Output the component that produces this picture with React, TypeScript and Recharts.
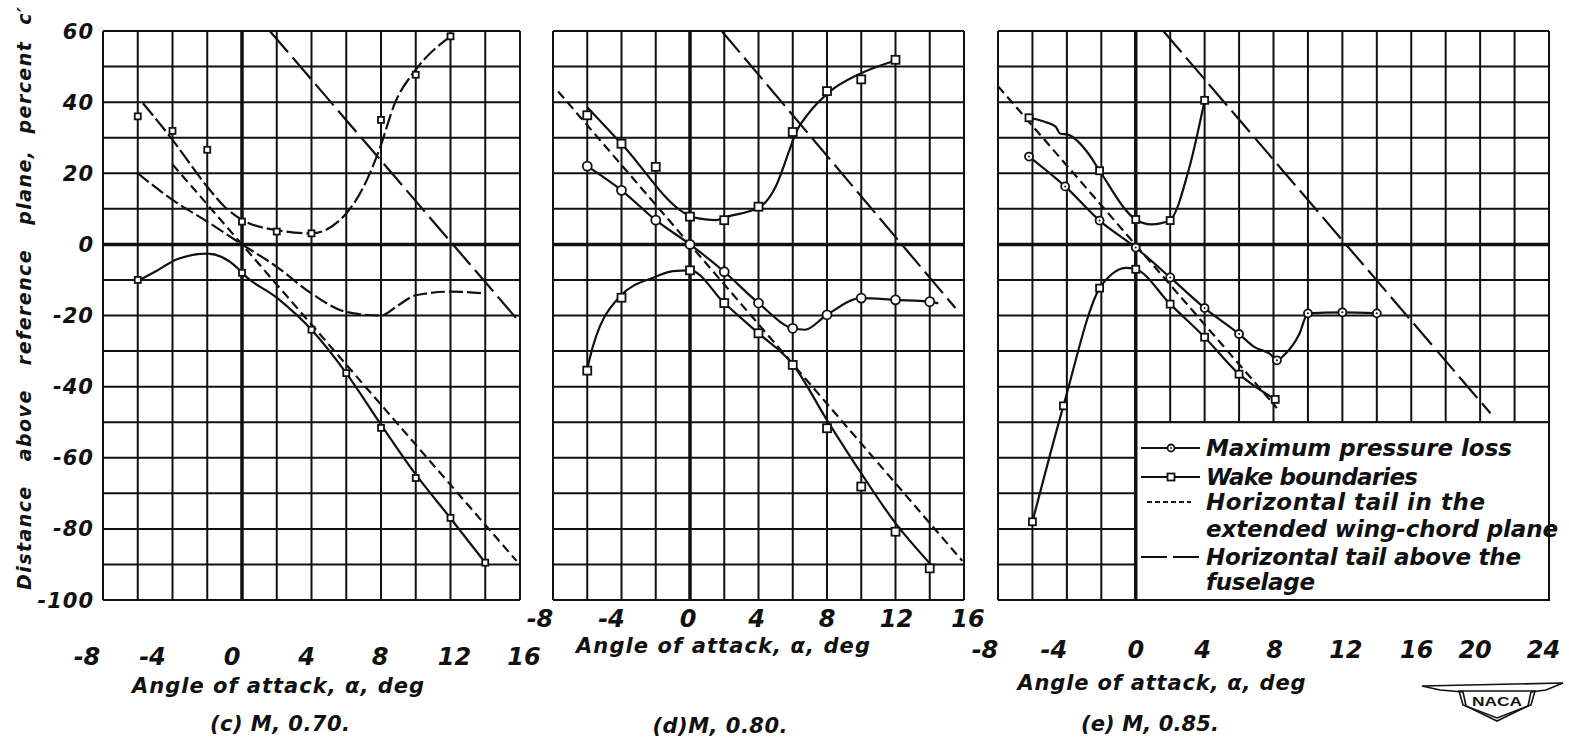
import React from 'react';
import {
  ComposedChart,
  Line,
  Scatter,
  XAxis,
  YAxis,
  CartesianGrid,
  ReferenceLine,
  ReferenceArea,
} from 'recharts';

type Pt = { x: number; y: number };
const toPts = (a: number[][]): Pt[] => a.map(([x, y]) => ({ x, y }));

// ---------- axis ticks & labels ----------
const xTicks16 = [-8, -6, -4, -2, 0, 2, 4, 6, 8, 10, 12, 14, 16];
const xTicks24 = [-8, -6, -4, -2, 0, 2, 4, 6, 8, 10, 12, 14, 16, 18, 20, 22, 24];
const xLabels16 = [-8, -4, 0, 4, 8, 12, 16];
const xLabels24 = [-8, -4, 0, 4, 8, 12, 16, 20, 24];
const yTicks = [-100, -90, -80, -70, -60, -50, -40, -30, -20, -10, 0, 10, 20, 30, 40, 50, 60];
const yLabels = [60, 40, 20, 0, -20, -40, -60, -80, -100];

// ---------- (c) M = 0.70 ----------
const cLossCurve = [[-6, 20], [-4, 12.5], [-2, 6.4], [0, 0], [2, -6.3], [4, -13.8], [6, -19], [8, -20], [9, -17.1], [10, -14.3], [12, -13.3], [14, -13.8]];
const cWakeUpperCurve = [[-5.7, 39.7], [-4, 29.4], [-2, 16.2], [-1, 10.6], [0, 6.9], [2, 4], [4, 3.1], [6, 8.7], [7, 16.2], [7.9, 26.6], [8.8, 39.7], [10, 49.1], [12, 58.5]];
const cWakeUpperPts = [[-6, 36], [-4, 31.9], [-2, 26.6], [0, 6.4], [2, 3.6], [4, 3.1], [8, 35], [10, 47.7], [12, 58.5]];
const cWakeLowerCurve = [[-5.9, -10], [-4.9, -7.4], [-3.7, -4.1], [-2, -2.6], [-0.2, -6.9], [0, -8], [2, -15], [4, -24], [6, -36.2], [8, -50.7], [10, -64.7], [12, -77], [14, -89.5]];
const cWakeLowerPts = [[-6, -10], [0, -8], [4, -24], [6, -36.2], [8, -51.6], [10, -65.7], [12, -76.9], [14, -89.5]];
const cChord = [[-4, 22.5], [15.8, -89]];
const cAbove = [[1.6, 60], [16, -22]];

// ---------- (d) M = 0.80 ----------
const dLossPts = [[-6, 22], [-4, 15.2], [-2, 6.8], [0, 0], [2, -7.7], [4, -16.5], [6, -23.6], [8, -19.8], [10, -15.1], [12, -15.6], [14, -16.1]];
const dLossCurve = [[-6, 22], [-4, 15.2], [-2, 6.8], [0, 0], [2, -7.7], [4, -16.5], [6, -23.6], [6.7, -24], [8, -19.8], [10, -15.1], [12, -15.6], [14, -16.1], [14.5, -16.6]];
const dWakeUpperCurve = [[-6, 38.6], [-4, 28.3], [0, 8], [0.5, 7.3], [1.5, 6.8], [2.2, 7.8], [4.1, 10.6], [5, 16.2], [5.8, 26.4], [6.2, 31.6], [6.9, 36.7], [8.2, 43.1], [9.9, 47.9], [12, 51.7]];
const dWakeUpperPts = [[-6, 36.3], [-4, 28.3], [-2, 21.8], [0, 7.8], [2, 6.8], [4, 10.6], [6, 31.6], [8, 43.1], [10, 46.4], [12, 51.9]];
const dWakeLowerCurve = [[-6, -35.5], [-5.9, -32.9], [-4.1, -14.7], [-2, -9.1], [-1, -7.5], [0, -7.3], [2, -16.5], [4, -25], [6, -33.7], [8, -49.4], [10, -64.4], [12, -78.4], [14, -89.7]];
const dWakeLowerPts = [[-6, -35.5], [-4, -15], [0, -7.3], [2, -16.5], [4, -25], [6, -33.9], [8, -51.7], [10, -68.1], [12, -80.8], [14, -91.1]];
const dChord = [[-7.7, 43], [15.9, -89]];
const dAbove = [[1.85, 60], [15.5, -17.9]];

// ---------- (e) M = 0.85 ----------
const eLossPts = [[-6.2, 24.7], [-4.1, 16.3], [-2.1, 6.7], [0, -0.9], [2, -9.3], [4, -17.9], [6, -25.2], [8.2, -32.6], [10, -19.4], [12, -19.1], [14, -19.4]];
const eLossCurve = [[-6.2, 24.7], [-4.1, 16.3], [-2.1, 6.7], [0, -0.9], [2, -9.3], [4, -17.9], [6, -25.2], [6.9, -28.9], [7.8, -30.8], [8.2, -32.6], [8.6, -31.2], [9.5, -25.2], [10, -19.4], [12, -19.1], [14, -19.4]];
const eWakeUpperCurve = [[-6.2, 35.6], [-5.3, 34.5], [-4.65, 33.1], [-4.4, 31.2], [-3.9, 30.8], [-2.7, 25.2], [-2.1, 20.7], [0, 7], [0.9, 5.6], [1.95, 6.7], [3.1, 21.4], [4, 40.5]];
const eWakeUpperPts = [[-6.2, 35.6], [-2.1, 20.7], [0, 7], [2, 6.7], [4, 40.5]];
const eWakeLowerCurve = [[-6, -78], [-4.2, -45.4], [-2.1, -12.3], [-1.4, -8.4], [-0.6, -6.6], [0, -7], [2, -16.8], [4, -26.1], [6, -36.5], [8.1, -43.6]];
const eWakeLowerPts = [[-6, -78], [-4.2, -45.4], [-2.1, -12.3], [0, -7], [2, -16.8], [4, -26.1], [6, -36.5], [8.1, -43.6]];
const eChord = [[-8, 44.5], [8.2, -46]];
const eAbove = [[1.6, 60], [20.6, -47.5]];

// ---------- styling ----------
const W = 1569;
const H = 744;
const INK = '#111';
const FONT = { fontFamily: '"DejaVu Sans", "Liberation Sans", sans-serif', fontWeight: 'bold' as const, fontStyle: 'italic' as const };
const CHORD_DASH = '9 5';
const ABOVE_DASH = '28 7';
const LW = 2.2;

const circleShape = (r: number, dot: boolean) => (p: any) => (
  <g>
    <circle cx={p.cx} cy={p.cy} r={r} fill="#fff" stroke={INK} strokeWidth={1.8} />
    {dot ? <circle cx={p.cx} cy={p.cy} r={1} fill={INK} /> : null}
  </g>
);
const squareShape = (s: number) => (p: any) => (
  <rect x={p.cx - s / 2} y={p.cy - s / 2} width={s} height={s} fill="#fff" stroke={INK} strokeWidth={1.8} />
);

type Panel = {
  key: string;
  left: number;
  right: number;
  xMax: number;
  xTicks: number[];
  xLabels: number[];
  labelDx: Record<string, number>;
  tickBaseline: number;
  showY: boolean;
  legendBox: boolean;
  lossCurve: number[][];
  lossPts: number[][] | null;
  lossDash?: string;
  wakeUpperCurve: number[][];
  wakeUpperPts: number[][];
  wakeUpperDash?: string;
  wakeLowerCurve: number[][];
  wakeLowerPts: number[][];
  chord: number[][];
  above: number[][];
  circleR: number;
  circleDot: boolean;
  sq: number;
};

const panels: Panel[] = [
  {
    key: 'c', left: 103, right: 520, xMax: 16, xTicks: xTicks16, xLabels: xLabels16,
    labelDx: { '-8': -16, '-4': -20, '0': -10, '4': -5, '8': -1, '12': 4, '16': 4 },
    tickBaseline: 665, showY: true, legendBox: false,
    lossCurve: cLossCurve, lossPts: null, lossDash: '14 4',
    wakeUpperCurve: cWakeUpperCurve, wakeUpperPts: cWakeUpperPts, wakeUpperDash: '16 4',
    wakeLowerCurve: cWakeLowerCurve, wakeLowerPts: cWakeLowerPts,
    chord: cChord, above: cAbove, circleR: 4, circleDot: false, sq: 6,
  },
  {
    key: 'd', left: 553, right: 964, xMax: 16, xTicks: xTicks16, xLabels: xLabels16,
    labelDx: { '-8': -13, '-4': -10, '0': -2, '4': -2, '8': 0, '12': 1, '16': 4 },
    tickBaseline: 627, showY: false, legendBox: false,
    lossCurve: dLossCurve, lossPts: dLossPts,
    wakeUpperCurve: dWakeUpperCurve, wakeUpperPts: dWakeUpperPts,
    wakeLowerCurve: dWakeLowerCurve, wakeLowerPts: dWakeLowerPts,
    chord: dChord, above: dAbove, circleR: 4.5, circleDot: false, sq: 8,
  },
  {
    key: 'e', left: 998, right: 1549, xMax: 24, xTicks: xTicks24, xLabels: xLabels24,
    labelDx: { '-8': -13, '-4': -13, '0': 0, '4': -2, '8': 1, '12': 3.5, '16': 5.5, '20': -5, '24': -5.5 },
    tickBaseline: 658, showY: false, legendBox: true,
    lossCurve: eLossCurve, lossPts: eLossPts,
    wakeUpperCurve: eWakeUpperCurve, wakeUpperPts: eWakeUpperPts,
    wakeLowerCurve: eWakeLowerCurve, wakeLowerPts: eWakeLowerPts,
    chord: eChord, above: eAbove, circleR: 4, circleDot: true, sq: 7,
  },
];

const PLOT_TOP = 31;
const PLOT_BOTTOM = 600;
const X_AXIS_H = 30;
const Y_AXIS_W = 60;

function PanelChart({ p }: { p: Panel }) {
  const xTick = (props: any) => {
    const v = props.payload.value;
    if (!p.xLabels.includes(v)) return <g />;
    return (
      <text x={props.x + (p.labelDx[String(v)] || 0)} y={p.tickBaseline} textAnchor="middle" fontSize={24} fill={INK} style={FONT}>
        {String(v)}
      </text>
    );
  };
  const yTick = (props: any) => {
    const v = props.payload.value;
    if (!yLabels.includes(v)) return <g />;
    return (
      <text x={94} y={props.y + 7.5} textAnchor="end" fontSize={21} letterSpacing={1} fill={INK} style={FONT}>
        {String(v)}
      </text>
    );
  };
  const margin = {
    top: PLOT_TOP,
    bottom: H - PLOT_BOTTOM - X_AXIS_H,
    left: p.showY ? p.left - Y_AXIS_W : p.left,
    right: W - p.right,
  };
  return (
    <div style={{ position: 'absolute', left: 0, top: 0, width: W, height: H }}>
      <ComposedChart width={W} height={H} margin={margin}>
        <CartesianGrid stroke={INK} strokeWidth={2} />
        <XAxis
          type="number"
          dataKey="x"
          domain={[-8, p.xMax]}
          ticks={p.xTicks}
          interval={0}
          allowDataOverflow
          axisLine={false}
          tickLine={false}
          height={X_AXIS_H}
          tick={xTick}
        />
        <YAxis
          type="number"
          dataKey="y"
          domain={[-100, 60]}
          ticks={yTicks}
          interval={0}
          allowDataOverflow
          hide={!p.showY}
          width={Y_AXIS_W}
          axisLine={false}
          tickLine={false}
          tick={yTick}
        />
        <ReferenceLine y={0} stroke={INK} strokeWidth={3.5} />
        {p.legendBox ? (
          <ReferenceArea x1={0} x2={p.xMax} y1={-100} y2={-50} fill="#fff" fillOpacity={1} stroke={INK} strokeWidth={2} />
        ) : null}
        <ReferenceLine x={0} stroke={INK} strokeWidth={3.5} />
        <Line data={toPts(p.chord)} dataKey="y" type="linear" stroke={INK} strokeWidth={LW} strokeDasharray={CHORD_DASH} dot={false} activeDot={false} isAnimationActive={false} />
        <Line data={toPts(p.above)} dataKey="y" type="linear" stroke={INK} strokeWidth={LW} strokeDasharray={ABOVE_DASH} dot={false} activeDot={false} isAnimationActive={false} />
        <Line data={toPts(p.wakeUpperCurve)} dataKey="y" type="monotone" stroke={INK} strokeWidth={LW} strokeDasharray={p.wakeUpperDash} dot={false} activeDot={false} isAnimationActive={false} />
        <Line data={toPts(p.wakeLowerCurve)} dataKey="y" type="monotone" stroke={INK} strokeWidth={LW} dot={false} activeDot={false} isAnimationActive={false} />
        <Line data={toPts(p.lossCurve)} dataKey="y" type="monotone" stroke={INK} strokeWidth={LW} strokeDasharray={p.lossDash} dot={false} activeDot={false} isAnimationActive={false} />
        <Scatter data={toPts(p.wakeUpperPts)} dataKey="y" shape={squareShape(p.sq)} isAnimationActive={false} />
        <Scatter data={toPts(p.wakeLowerPts)} dataKey="y" shape={squareShape(p.sq)} isAnimationActive={false} />
        {p.lossPts ? (
          <Scatter data={toPts(p.lossPts)} dataKey="y" shape={circleShape(p.circleR, p.circleDot)} isAnimationActive={false} />
        ) : null}
      </ComposedChart>
    </div>
  );
}

// ---------- text overlay ----------
const titles = [
  { text: 'Angle of attack, α, deg', x: 278, y: 693, len: 292 },
  { text: '(c) M, 0.70.', x: 280, y: 731, len: 140 },
  { text: 'Angle of attack, α, deg', x: 723, y: 653, len: 294 },
  { text: '(d)M, 0.80.', x: 720, y: 733, len: 135 },
  { text: 'Angle of attack, α, deg', x: 1161.5, y: 690, len: 288 },
  { text: '(e) M, 0.85.', x: 1150, y: 731, len: 138 },
];
const legendLines = [
  { text: 'Maximum pressure loss', y: 456, len: 306 },
  { text: 'Wake boundaries', y: 485, len: 212 },
  { text: 'Horizontal tail in the', y: 510, len: 279 },
  { text: 'extended wing-chord plane', y: 537, len: 352 },
  { text: 'Horizontal tail above the', y: 565, len: 315 },
  { text: 'fuselage', y: 590, len: 109 },
];

function Overlay() {
  return (
    <svg width={W} height={H} style={{ position: 'absolute', left: 0, top: 0, pointerEvents: 'none' }}>
      <text
        transform="translate(31 298.5) rotate(-90)"
        textAnchor="middle"
        fontSize={19}
        fill={INK}
        style={{ ...FONT, whiteSpace: 'pre' }}
        textLength={583}
        lengthAdjust="spacing"
      >
        {'Distance   above   reference   plane,  percent  c′'}
      </text>
      {titles.map((t, i) => (
        <text key={i} x={t.x} y={t.y} textAnchor="middle" fontSize={21} fill={INK} style={FONT} textLength={t.len} lengthAdjust="spacing">
          {t.text}
        </text>
      ))}
      {/* legend */}
      <g>
        <line x1={1141} x2={1200} y1={448} y2={448} stroke={INK} strokeWidth={2} />
        <circle cx={1171} cy={448} r={3.5} fill="#fff" stroke={INK} strokeWidth={1.8} />
        <circle cx={1171} cy={448} r={0.9} fill={INK} />
        <line x1={1141} x2={1200} y1={477} y2={477} stroke={INK} strokeWidth={2} />
        <rect x={1167.5} y={473.5} width={7} height={7} fill="#fff" stroke={INK} strokeWidth={1.8} />
        <line x1={1147} x2={1191} y1={502} y2={502} stroke={INK} strokeWidth={2} strokeDasharray="5 3" />
        <line x1={1141} x2={1204} y1={557} y2={557} stroke={INK} strokeWidth={2} strokeDasharray="26 6" />
        {legendLines.map((l, i) => (
          <text key={i} x={1206} y={l.y} fontSize={23} fill={INK} style={FONT} textLength={l.len} lengthAdjust="spacing">
            {l.text}
          </text>
        ))}
      </g>
      {/* NACA wings */}
      <g fill="none" stroke={INK} strokeWidth={1.6}>
        <path d="M1422,686 L1563,683 L1546,690 L1531,692 L1528,706 L1497,721 L1466,706 L1463,692 L1440,690 Z" fill="#fff" />
        <path d="M1459,691 L1535,691 L1531,705 L1497,718 L1463,705 Z" />
      </g>
      <text x={1497} y={706} textAnchor="middle" fontSize={13} fill={INK} style={{ fontFamily: '"Liberation Sans", sans-serif', fontWeight: 'bold' }} textLength={50} lengthAdjust="spacingAndGlyphs">
        NACA
      </text>
    </svg>
  );
}

export default function App() {
  return (
    <div style={{ position: 'absolute', left: 0, top: 0, width: W, height: H, background: '#fff', overflow: 'hidden' }}>
      {panels.map((p) => (
        <PanelChart key={p.key} p={p} />
      ))}
      <Overlay />
    </div>
  );
}
